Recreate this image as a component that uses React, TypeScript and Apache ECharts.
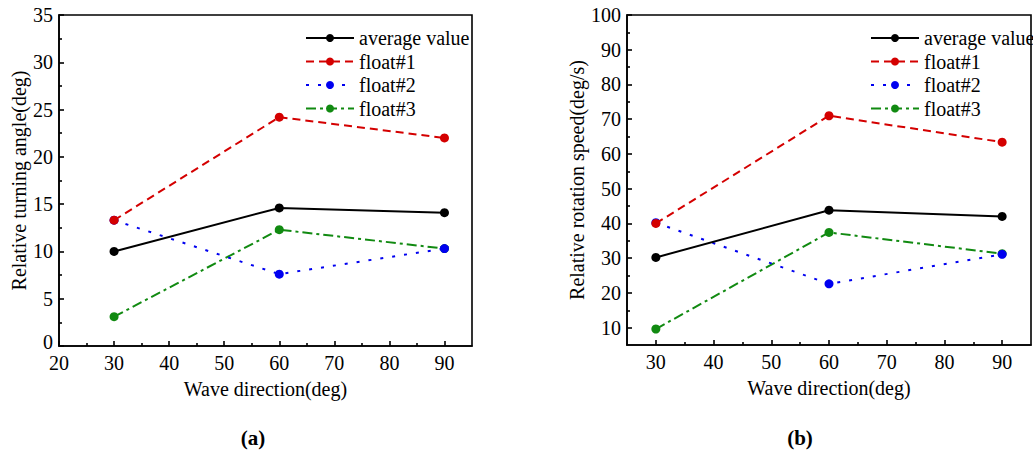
import React, { useEffect, useRef } from "react";
import * as echarts from "echarts";

const waveDirections = [30, 60, 90];
const seriesNames = ["average value", "float#1", "float#2", "float#3"];

const angleAvg = [10.0, 14.6, 14.1];
const angleF1 = [13.3, 24.2, 22.0];
const angleF2 = [13.3, 7.6, 10.3];
const angleF3 = [3.1, 12.3, 10.3];

const speedAvg = [30.2, 43.8, 42.0];
const speedF1 = [40.0, 71.0, 63.4];
const speedF2 = [40.2, 22.6, 31.1];
const speedF3 = [9.6, 37.4, 31.3];

const leftXLabels = [20, 30, 40, 50, 60, 70, 80, 90];
const leftXMinor = [25, 35, 45, 55, 65, 75, 85];
const leftYLabels = [0, 5, 10, 15, 20, 25, 30, 35];
const leftYMinor = [2.5, 7.5, 12.5, 17.5, 22.5, 27.5, 32.5];
const rightXLabels = [30, 40, 50, 60, 70, 80, 90];
const rightXMinor = [35, 45, 55, 65, 75, 85];
const rightYLabels = [10, 20, 30, 40, 50, 60, 70, 80, 90, 100];
const rightYMinor = [15, 25, 35, 45, 55, 65, 75, 85, 95];

const FONT = '"Liberation Serif", "Times New Roman", serif';
const colors = ["#000000", "#d40000", "#0000f0", "#118a11"];
const dashes: any[] = ["solid", [8, 5], [3, 9], [10, 4, 3, 4]];

function majorAxis(min: number, max: number, labels: number[], gridIndex: number, extra: any = {}) {
  return {
    type: "value",
    gridIndex,
    min,
    max,
    axisLine: { show: true, onZero: false, lineStyle: { color: "#000", width: 1.6 } },
    axisTick: { show: true, inside: true, length: 5, customValues: labels, lineStyle: { color: "#000", width: 1.6 } },
    splitLine: { show: false },
    nameTextStyle: { color: "#000", fontFamily: FONT, fontSize: 20 },
    ...extra,
  };
}

function minorAxis(min: number, max: number, ticks: number[], gridIndex: number, position: string) {
  return {
    type: "value",
    gridIndex,
    min,
    max,
    position,
    axisLine: { show: false },
    axisTick: { show: true, inside: true, length: 3, customValues: ticks, lineStyle: { color: "#000", width: 1.6 } },
    axisLabel: { show: false },
    splitLine: { show: false },
  };
}

function xLabels(values: number[]) {
  return { show: true, customValues: values, color: "#000", fontFamily: FONT, fontSize: 20, lineHeight: 12, margin: 11 };
}

function yLabels(values: number[], liftMin: boolean) {
  return {
    show: true,
    customValues: values,
    color: "#000",
    fontFamily: FONT,
    fontSize: 20,
    lineHeight: 12,
    margin: 6,
    formatter: (v: number) => (liftMin && v === values[0] ? "{z|" + v + "}" : String(v)),
    rich: { z: { color: "#000", fontFamily: FONT, fontSize: 20, lineHeight: 12, padding: [0, 0, 8, 0] } },
  };
}

function makeSeries(values: number[][], axisIndex: number) {
  return values.map((vals, i) => ({
    name: seriesNames[i],
    type: "line",
    xAxisIndex: axisIndex,
    yAxisIndex: axisIndex,
    data: waveDirections.map((x, j) => [x, vals[j]]),
    symbol: "circle",
    symbolSize: 9,
    itemStyle: { color: colors[i] },
    lineStyle: { color: colors[i], width: 2, type: dashes[i] },
    z: 10 - i,
  }));
}

function legendFor(left: number) {
  return {
    orient: "vertical",
    left,
    top: 23,
    itemWidth: 48,
    itemHeight: 10,
    itemGap: 3.5,
    textStyle: { color: "#000", fontFamily: FONT, fontSize: 20, lineHeight: 20 },
    data: seriesNames,
  };
}

export default function App() {
  const ref = useRef<HTMLDivElement>(null);
  useEffect(() => {
    if (!ref.current) return;
    const chart = echarts.init(ref.current, null, { renderer: "svg" });
    chart.setOption({
      animation: false,
      backgroundColor: "#ffffff",
      grid: [
        { left: 59, top: 15, width: 413, height: 331, show: true, borderColor: "#000", borderWidth: 1.6, containLabel: false },
        { left: 627, top: 15, width: 404, height: 330, show: true, borderColor: "#000", borderWidth: 1.6, containLabel: false },
      ],
      legend: [legendFor(300), legendFor(865)],
      xAxis: [
        majorAxis(20, 95, leftXLabels, 0, { position: "bottom", name: "Wave direction(deg)", nameLocation: "middle", nameGap: 33, axisLabel: xLabels(leftXLabels) }),
        minorAxis(20, 95, leftXMinor, 0, "bottom"),
        majorAxis(25, 95, rightXLabels, 1, { position: "bottom", name: "Wave direction(deg)", nameLocation: "middle", nameGap: 33, axisLabel: xLabels(rightXLabels) }),
        minorAxis(25, 95, rightXMinor, 1, "bottom"),
      ],
      yAxis: [
        majorAxis(0, 35, leftYLabels, 0, { position: "left", name: "Relative turning angle(deg)", nameLocation: "middle", nameGap: 30, axisLabel: yLabels(leftYLabels, true) }),
        minorAxis(0, 35, leftYMinor, 0, "left"),
        majorAxis(5, 100, rightYLabels, 1, { position: "left", name: "Relative rotation speed(deg/s)", nameLocation: "middle", nameGap: 39, axisLabel: yLabels(rightYLabels, false) }),
        minorAxis(5, 100, rightYMinor, 1, "left"),
      ],
      series: [
        ...makeSeries([angleAvg, angleF1, angleF2, angleF3], 0),
        ...makeSeries([speedAvg, speedF1, speedF2, speedF3], 2),
      ],
      graphic: [
        { type: "text", x: 253, y: 438, style: { text: "(a)", align: "center", verticalAlign: "middle", fontFamily: FONT, fontSize: 21, fontWeight: "bold", fill: "#000" } },
        { type: "text", x: 800, y: 438, style: { text: "(b)", align: "center", verticalAlign: "middle", fontFamily: FONT, fontSize: 21, fontWeight: "bold", fill: "#000" } },
      ],
    });
    return () => chart.dispose();
  }, []);
  return <div ref={ref} style={{ position: "absolute", left: 0, top: 0, width: 1033, height: 456 }} />;
}
